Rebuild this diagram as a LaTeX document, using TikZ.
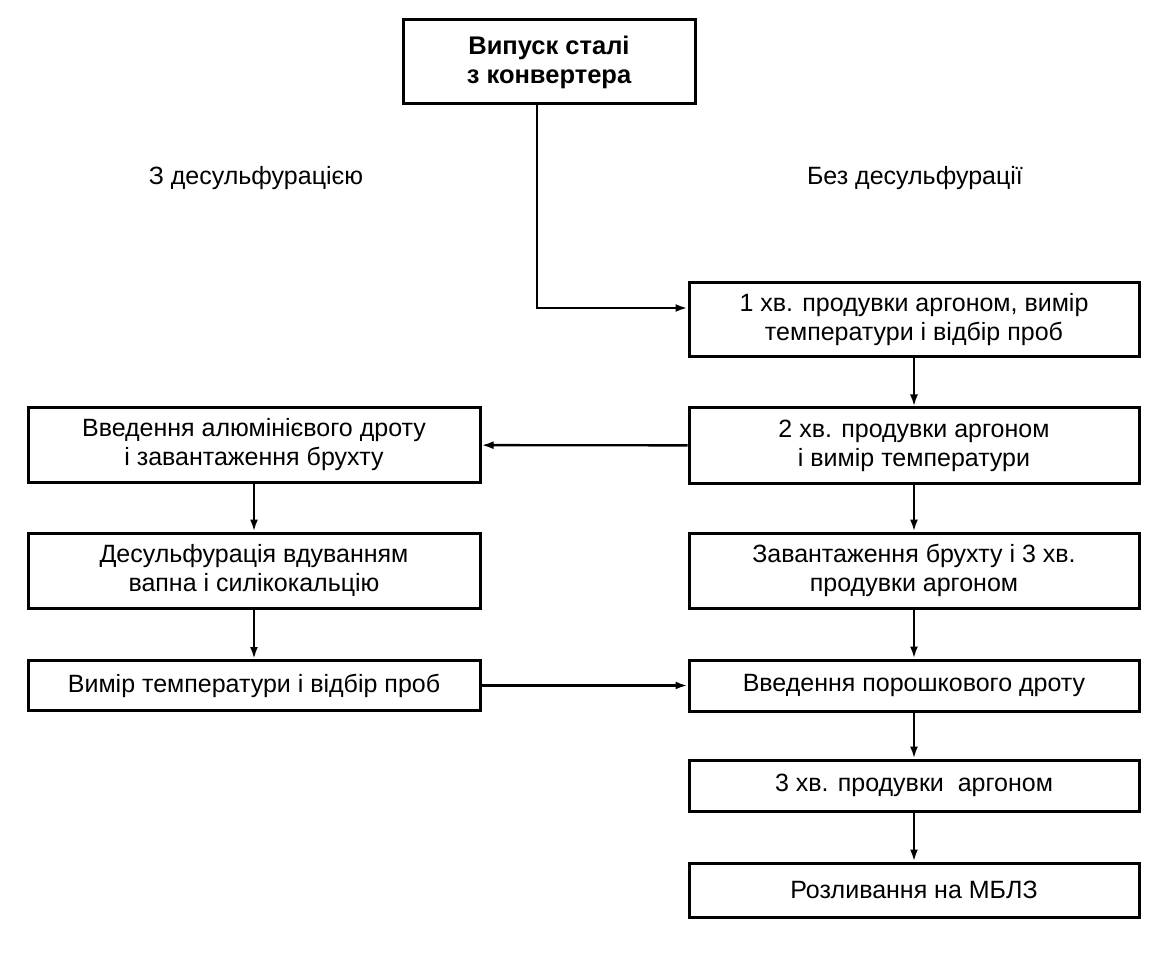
\documentclass[tikz,border=0pt]{standalone}
\usepackage{fontspec}
\setmainfont{Liberation Sans}
\usetikzlibrary{arrows.meta}
\begin{document}
\begin{tikzpicture}[x=1pt,y=-1pt,
  box/.style={draw, line width=3pt, inner sep=0pt, align=center, font=\fontsize{25}{29}\selectfont},
  rbox/.style={box, minimum width=450pt},
  lbox/.style={box, minimum width=452pt},
  lab/.style={font=\fontsize{25}{29}\selectfont},
  conn/.style={line width=2.4pt, -{Latex[length=12pt,width=8pt]}}]
\useasboundingbox (0,0) rectangle (1165,957);
\node[box, minimum width=292pt, minimum height=84pt, font=\bfseries\fontsize{25.5}{29}\selectfont] (top) at (549,62) {Випуск сталі\\з конвертера};
\node[lab] (labL) at (256,178) {З десульфурацією};
\node[lab] (labR) at (915,178) {Без десульфурації};
\node[rbox, minimum height=74pt] (r1) at (914,320) {1 хв. продувки аргоном, вимір\\температури і відбір проб};
\node[rbox, minimum height=75pt] (r2) at (914,445.5) {2 хв. продувки аргоном\\і вимір температури};
\node[rbox, minimum height=75pt] (r3) at (914,570.5) {Завантаження брухту і 3 хв.\\продувки аргоном};
\node[rbox, minimum height=51pt] (r4) at (914,685.5) {Введення порошкового дроту};
\node[rbox, minimum height=51pt] (r5) at (914,785.5) {3 хв. продувки\ \ аргоном};
\node[rbox, minimum height=54pt] (r6) at (914,890) {Розливання на МБЛЗ};
\node[lbox, minimum height=74pt] (l1) at (254,445) {Введення алюмінієвого дроту\\і завантаження брухту};
\node[lbox, minimum height=75pt] (l2) at (254,570.5) {Десульфурація вдуванням\\вапна і силікокальцію};
\node[lbox, minimum height=50pt] (l3) at (254,685.5) {Вимір температури і відбір проб};
\draw[conn] ([xshift=-12pt]top.south) |- ([yshift=12pt]r1.west);
\draw[conn] (r1) -- (r2);
\draw[conn] (r2) -- (r3);
\draw[conn] (r3) -- (r4);
\draw[conn] (r4) -- (r5);
\draw[conn] (r5) -- (r6);
\draw[conn] (r2) -- (l1);
\draw[conn] (l1) -- (l2);
\draw[conn] (l2) -- (l3);
\draw[conn] (l3) -- (r4);
\end{tikzpicture}
\end{document}
